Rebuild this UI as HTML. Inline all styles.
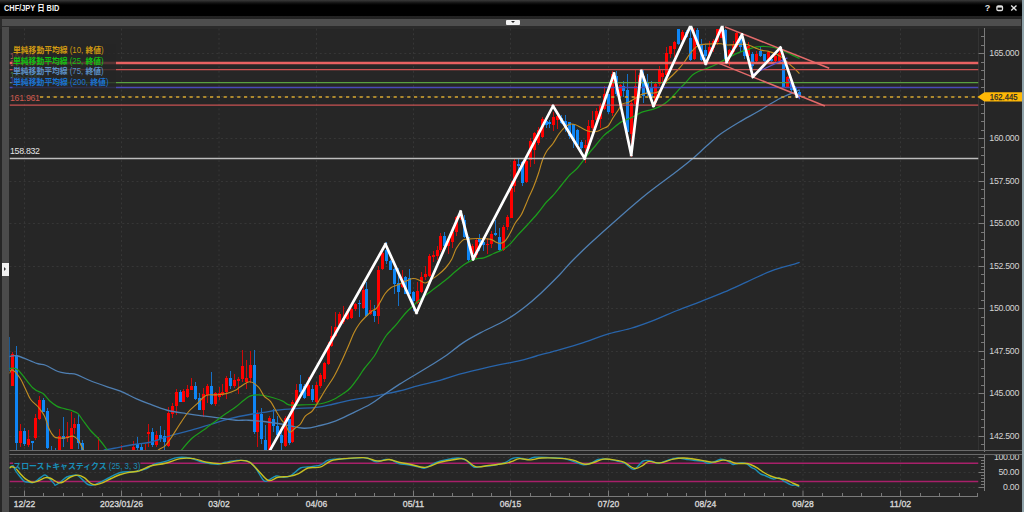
<!DOCTYPE html>
<html><head><meta charset="utf-8">
<style>
html,body{margin:0;padding:0;}
body{width:1024px;height:512px;overflow:hidden;background:#262626;position:relative;font-family:"Liberation Sans","Noto Sans CJK JP",sans-serif;}
#title{position:absolute;left:0;top:0;width:1022px;height:16px;background:linear-gradient(#3a3a3a 0px,#111 3px,#000 5px,#000 16px);}
#title .t{position:absolute;left:4px;top:2.5px;font-size:9px;font-weight:bold;color:#f0f0f0;line-height:11px;white-space:nowrap;}
#band{position:absolute;left:0;top:16px;width:1022px;height:12.5px;background:linear-gradient(#222 0px,#232323 3px,#2b2b2b 3px,#2b2b2b 12.5px);}
#gbar{position:absolute;left:1.5px;top:19px;width:1019.5px;height:7px;background:#4e4e4e;}
#tab{position:absolute;left:506px;top:19.8px;width:13.5px;height:5.2px;background:#f2f2f2;border-radius:1px;}
#tab:after{content:"";position:absolute;left:4.6px;top:1.6px;border-left:2.2px solid transparent;border-right:2.2px solid transparent;border-top:2.2px solid #222;}
#lstrip{position:absolute;left:1.5px;top:27px;width:7.5px;height:485px;background:#4b4b4b;}
#rstrip{position:absolute;left:1022px;top:0;width:2px;height:512px;background:#8fa3aa;}
#lbtn{position:absolute;left:2px;top:263px;width:7px;height:13px;background:#f2f2f2;}
#lbtn:after{content:"";position:absolute;left:2.2px;top:4px;border-top:2.6px solid transparent;border-bottom:2.6px solid transparent;border-left:2.6px solid #333;}
#icons{position:absolute;top:0;left:0;}
</style></head><body>
<div id="title"></div>
<div id="band"></div>
<div id="gbar"></div>
<div id="tab"></div>
<div id="lstrip"></div>
<div id="lbtn"></div>
<div id="rstrip"></div>
<svg width="1024" height="512" viewBox="0 0 1024 512" style="position:absolute;left:0;top:0">
<defs>
<clipPath id="cm"><rect x="9.5" y="25.8" width="969.0" height="424.2"/></clipPath>
<clipPath id="cs"><rect x="9.5" y="455" width="969.0" height="35.5"/></clipPath>
</defs>
<g stroke="#363636" stroke-width="1" stroke-dasharray="2 2.7"><line x1="9.5" y1="53.5" x2="978.5" y2="53.5"/><line x1="9.5" y1="96.5" x2="978.5" y2="96.5"/><line x1="9.5" y1="138.5" x2="978.5" y2="138.5"/><line x1="9.5" y1="181.5" x2="978.5" y2="181.5"/><line x1="9.5" y1="223.5" x2="978.5" y2="223.5"/><line x1="9.5" y1="266.5" x2="978.5" y2="266.5"/><line x1="9.5" y1="308.5" x2="978.5" y2="308.5"/><line x1="9.5" y1="351.5" x2="978.5" y2="351.5"/><line x1="9.5" y1="393.5" x2="978.5" y2="393.5"/><line x1="9.5" y1="436.5" x2="978.5" y2="436.5"/><line x1="24.5" y1="28.5" x2="24.5" y2="450.0"/><line x1="121.5" y1="28.5" x2="121.5" y2="450.0"/><line x1="219" y1="28.5" x2="219" y2="450.0"/><line x1="316.5" y1="28.5" x2="316.5" y2="450.0"/><line x1="413.5" y1="28.5" x2="413.5" y2="450.0"/><line x1="510.5" y1="28.5" x2="510.5" y2="450.0"/><line x1="608.5" y1="28.5" x2="608.5" y2="450.0"/><line x1="705.5" y1="28.5" x2="705.5" y2="450.0"/><line x1="803" y1="28.5" x2="803" y2="450.0"/><line x1="900.5" y1="28.5" x2="900.5" y2="450.0"/></g>
<g stroke="#363636" stroke-width="1" stroke-dasharray="2 2.7"><line x1="9.5" y1="457.5" x2="978.5" y2="457.5"/><line x1="9.5" y1="472.5" x2="978.5" y2="472.5"/><line x1="9.5" y1="487.5" x2="978.5" y2="487.5"/><line x1="24.5" y1="455" x2="24.5" y2="490"/><line x1="121.5" y1="455" x2="121.5" y2="490"/><line x1="219" y1="455" x2="219" y2="490"/><line x1="316.5" y1="455" x2="316.5" y2="490"/><line x1="413.5" y1="455" x2="413.5" y2="490"/><line x1="510.5" y1="455" x2="510.5" y2="490"/><line x1="608.5" y1="455" x2="608.5" y2="490"/><line x1="705.5" y1="455" x2="705.5" y2="490"/><line x1="803" y1="455" x2="803" y2="490"/><line x1="900.5" y1="455" x2="900.5" y2="490"/></g>
<line x1="978.5" y1="28" x2="978.5" y2="450" stroke="#333" stroke-width="1"/>
<g stroke="#7a7a7a" stroke-width="1"><line x1="981" y1="36.5" x2="984.5" y2="36.5"/><line x1="981" y1="45.5" x2="984.5" y2="45.5"/><line x1="978.5" y1="53.5" x2="984.5" y2="53.5"/><line x1="981" y1="62.5" x2="984.5" y2="62.5"/><line x1="981" y1="70.5" x2="984.5" y2="70.5"/><line x1="981" y1="79.5" x2="984.5" y2="79.5"/><line x1="981" y1="87.5" x2="984.5" y2="87.5"/><line x1="978.5" y1="96.5" x2="984.5" y2="96.5"/><line x1="981" y1="104.5" x2="984.5" y2="104.5"/><line x1="981" y1="113.5" x2="984.5" y2="113.5"/><line x1="981" y1="121.5" x2="984.5" y2="121.5"/><line x1="981" y1="130.5" x2="984.5" y2="130.5"/><line x1="978.5" y1="138.5" x2="984.5" y2="138.5"/><line x1="981" y1="147.5" x2="984.5" y2="147.5"/><line x1="981" y1="155.5" x2="984.5" y2="155.5"/><line x1="981" y1="164.5" x2="984.5" y2="164.5"/><line x1="981" y1="172.5" x2="984.5" y2="172.5"/><line x1="978.5" y1="181.5" x2="984.5" y2="181.5"/><line x1="981" y1="189.5" x2="984.5" y2="189.5"/><line x1="981" y1="198.5" x2="984.5" y2="198.5"/><line x1="981" y1="206.5" x2="984.5" y2="206.5"/><line x1="981" y1="215.5" x2="984.5" y2="215.5"/><line x1="978.5" y1="223.5" x2="984.5" y2="223.5"/><line x1="981" y1="232.5" x2="984.5" y2="232.5"/><line x1="981" y1="240.5" x2="984.5" y2="240.5"/><line x1="981" y1="249.5" x2="984.5" y2="249.5"/><line x1="981" y1="257.5" x2="984.5" y2="257.5"/><line x1="978.5" y1="266.5" x2="984.5" y2="266.5"/><line x1="981" y1="274.5" x2="984.5" y2="274.5"/><line x1="981" y1="283.5" x2="984.5" y2="283.5"/><line x1="981" y1="291.5" x2="984.5" y2="291.5"/><line x1="981" y1="300.5" x2="984.5" y2="300.5"/><line x1="978.5" y1="308.5" x2="984.5" y2="308.5"/><line x1="981" y1="317.5" x2="984.5" y2="317.5"/><line x1="981" y1="325.5" x2="984.5" y2="325.5"/><line x1="981" y1="334.5" x2="984.5" y2="334.5"/><line x1="981" y1="342.5" x2="984.5" y2="342.5"/><line x1="978.5" y1="351.5" x2="984.5" y2="351.5"/><line x1="981" y1="359.5" x2="984.5" y2="359.5"/><line x1="981" y1="368.5" x2="984.5" y2="368.5"/><line x1="981" y1="376.5" x2="984.5" y2="376.5"/><line x1="981" y1="385.5" x2="984.5" y2="385.5"/><line x1="978.5" y1="393.5" x2="984.5" y2="393.5"/><line x1="981" y1="402.5" x2="984.5" y2="402.5"/><line x1="981" y1="410.5" x2="984.5" y2="410.5"/><line x1="981" y1="419.5" x2="984.5" y2="419.5"/><line x1="981" y1="427.5" x2="984.5" y2="427.5"/><line x1="978.5" y1="436.5" x2="984.5" y2="436.5"/><line x1="981" y1="444.5" x2="984.5" y2="444.5"/><line x1="984.5" y1="28" x2="984.5" y2="452"/><line x1="978.5" y1="457.5" x2="984.5" y2="457.5"/><line x1="981" y1="460.5" x2="984.5" y2="460.5"/><line x1="981" y1="463.5" x2="984.5" y2="463.5"/><line x1="981" y1="466.5" x2="984.5" y2="466.5"/><line x1="981" y1="469.5" x2="984.5" y2="469.5"/><line x1="978.5" y1="472.5" x2="984.5" y2="472.5"/><line x1="981" y1="475.5" x2="984.5" y2="475.5"/><line x1="981" y1="478.5" x2="984.5" y2="478.5"/><line x1="981" y1="481.5" x2="984.5" y2="481.5"/><line x1="981" y1="484.5" x2="984.5" y2="484.5"/><line x1="978.5" y1="487.5" x2="984.5" y2="487.5"/><line x1="984.5" y1="455" x2="984.5" y2="491"/><line x1="9.5" y1="496.5" x2="978" y2="496.5"/><line x1="977.5" y1="493" x2="977.5" y2="496.5"/><line x1="24.5" y1="490.5" x2="24.5" y2="496.5"/><line x1="43.5" y1="493" x2="43.5" y2="496.5"/><line x1="63.5" y1="493" x2="63.5" y2="496.5"/><line x1="82.5" y1="493" x2="82.5" y2="496.5"/><line x1="102.5" y1="493" x2="102.5" y2="496.5"/><line x1="121.5" y1="490.5" x2="121.5" y2="496.5"/><line x1="141.5" y1="493" x2="141.5" y2="496.5"/><line x1="160.5" y1="493" x2="160.5" y2="496.5"/><line x1="180.5" y1="493" x2="180.5" y2="496.5"/><line x1="199.5" y1="493" x2="199.5" y2="496.5"/><line x1="219" y1="490.5" x2="219" y2="496.5"/><line x1="238.5" y1="493" x2="238.5" y2="496.5"/><line x1="258.5" y1="493" x2="258.5" y2="496.5"/><line x1="277.5" y1="493" x2="277.5" y2="496.5"/><line x1="297.5" y1="493" x2="297.5" y2="496.5"/><line x1="316.5" y1="490.5" x2="316.5" y2="496.5"/><line x1="336.5" y1="493" x2="336.5" y2="496.5"/><line x1="355.5" y1="493" x2="355.5" y2="496.5"/><line x1="374.5" y1="493" x2="374.5" y2="496.5"/><line x1="394.5" y1="493" x2="394.5" y2="496.5"/><line x1="413.5" y1="490.5" x2="413.5" y2="496.5"/><line x1="433.5" y1="493" x2="433.5" y2="496.5"/><line x1="452.5" y1="493" x2="452.5" y2="496.5"/><line x1="472.5" y1="493" x2="472.5" y2="496.5"/><line x1="491.5" y1="493" x2="491.5" y2="496.5"/><line x1="510.5" y1="490.5" x2="510.5" y2="496.5"/><line x1="530.5" y1="493" x2="530.5" y2="496.5"/><line x1="550.5" y1="493" x2="550.5" y2="496.5"/><line x1="569.5" y1="493" x2="569.5" y2="496.5"/><line x1="589.5" y1="493" x2="589.5" y2="496.5"/><line x1="608.5" y1="490.5" x2="608.5" y2="496.5"/><line x1="628.5" y1="493" x2="628.5" y2="496.5"/><line x1="647.5" y1="493" x2="647.5" y2="496.5"/><line x1="667.5" y1="493" x2="667.5" y2="496.5"/><line x1="686.5" y1="493" x2="686.5" y2="496.5"/><line x1="705.5" y1="490.5" x2="705.5" y2="496.5"/><line x1="725.5" y1="493" x2="725.5" y2="496.5"/><line x1="744.5" y1="493" x2="744.5" y2="496.5"/><line x1="764.5" y1="493" x2="764.5" y2="496.5"/><line x1="783.5" y1="493" x2="783.5" y2="496.5"/><line x1="803" y1="490.5" x2="803" y2="496.5"/><line x1="822.5" y1="493" x2="822.5" y2="496.5"/><line x1="842.5" y1="493" x2="842.5" y2="496.5"/><line x1="861.5" y1="493" x2="861.5" y2="496.5"/><line x1="881.5" y1="493" x2="881.5" y2="496.5"/><line x1="900.5" y1="490.5" x2="900.5" y2="496.5"/><line x1="920.5" y1="493" x2="920.5" y2="496.5"/><line x1="939.5" y1="493" x2="939.5" y2="496.5"/><line x1="959.5" y1="493" x2="959.5" y2="496.5"/></g>
<line x1="9.5" y1="450.5" x2="1022" y2="450.5" stroke="#6a6a6a" stroke-width="1.2"/>

<g clip-path="url(#cm)">
<path d="M12.5 352V386M20.5 424V447M28.5 430V447M35.5 414V440M39.5 396V420M59.5 429V452M67.5 422V442M71.5 412V449M74.5 418V434M98.5 437V454M121.5 445V454M133.5 441V452M145.5 444V454M148.5 424V447M156.5 431V447M168.5 407V447M172.5 403V418M176.5 389V415M183.5 389V402M187.5 385V398M191.5 378V390M203.5 388V417M207.5 384V403M215.5 392V406M219.5 387V400M222.5 384V396M226.5 376V399M234.5 374V388M238.5 377V394M242.5 350V382M246.5 360V389M250.5 351V383M257.5 410V447M269.5 416V452M285.5 416V447M292.5 400V443M296.5 384V402M308.5 377V396M316.5 382V403M320.5 373V388M324.5 362V382M328.5 342V365M331.5 326V347M335.5 312V337M339.5 312V326M343.5 306V324M347.5 309V320M351.5 308V319M355.5 303V311M363.5 284V309M370.5 300V315M378.5 266V324M382.5 248V270M402.5 270V288M417.5 282V304M421.5 272V293M425.5 266V280M429.5 254V277M433.5 251V262M437.5 246V260M440.5 233V252M448.5 237V254M452.5 230V248M456.5 216V236M460.5 211V220M472.5 244V256M476.5 238V258M487.5 238V254M491.5 231V248M503.5 225V251M507.5 215V230M511.5 181V218M514.5 159V192M526.5 160V183M530.5 138V167M534.5 132V164M538.5 127V145M542.5 117V138M553.5 112V131M557.5 115V129M585.5 140V163M588.5 120V151M592.5 111V130M596.5 108V126M600.5 103V128M604.5 86V110M612.5 71V116M620.5 84V96M631.5 100V157M635.5 70V106M639.5 73V95M655.5 82V106M659.5 66V86M662.5 69V82M666.5 47V84M670.5 46V58M674.5 41V57M682.5 30V41M694.5 28V60M709.5 41V58M713.5 39V52M717.5 29V45M721.5 26V38M729.5 49V66M733.5 41V54M736.5 32V48M748.5 42V63M756.5 51V64M768.5 51V62M775.5 54V62M779.5 50V61M787.5 76V88" stroke="#d00808" stroke-width="1" fill="none"/>
<path d="M8.5 337V371M16.5 346V450M24.5 428V446M32.5 441V450M43.5 398V412M47.5 408V449M51.5 446V454M55.5 448V454M63.5 417V447M78.5 414V449M82.5 440V452M137.5 437V452M141.5 444V452M152.5 428V447M160.5 426V442M164.5 430V450M180.5 390V402M195.5 382V400M199.5 393V410M211.5 372V405M230.5 371V389M254.5 350V434M261.5 408V444M265.5 425V452M273.5 409V432M277.5 416V436M281.5 428V452M289.5 419V445M300.5 375V393M304.5 384V399M312.5 385V402M359.5 300V317M366.5 282V317M374.5 305V322M386.5 242V264M390.5 260V270M394.5 268V294M398.5 268V306M405.5 276V294M409.5 269V294M413.5 291V311M444.5 232V248M464.5 215V238M468.5 237V262M479.5 234V251M483.5 238V251M495.5 220V236M499.5 228V251M518.5 159V170M522.5 161V186M546.5 118V128M549.5 120V128M561.5 115V124M565.5 115V132M569.5 122V139M573.5 124V148M577.5 129V146M581.5 140V155M608.5 94V114M616.5 71V96M623.5 81V97M627.5 74V137M643.5 70V103M647.5 74V96M651.5 81V99M678.5 29V45M686.5 30V38M690.5 26V61M697.5 28V46M701.5 39V61M705.5 45V61M725.5 29V61M740.5 35V52M744.5 42V59M752.5 52V70M760.5 47V57M764.5 54V62M771.5 55V62M783.5 55V88M791.5 80V92M795.5 86V95M799.5 90V99" stroke="#1670c6" stroke-width="1" fill="none"/>
<g fill="#ff0000"><rect x="11" y="354" width="3" height="32"/><rect x="19" y="431" width="3" height="12"/><rect x="27" y="439" width="3" height="6"/><rect x="34" y="418" width="3" height="20"/><rect x="38" y="400" width="3" height="19"/><rect x="58" y="436" width="3" height="16"/><rect x="66" y="436" width="3" height="2"/><rect x="70" y="428" width="3" height="21"/><rect x="73" y="424" width="3" height="4"/><rect x="97" y="451" width="3" height="3"/><rect x="120" y="451" width="3" height="3"/><rect x="132" y="447" width="3" height="5"/><rect x="144" y="451" width="3" height="3"/><rect x="147" y="432" width="3" height="2"/><rect x="155" y="435" width="3" height="10"/><rect x="167" y="413" width="3" height="33"/><rect x="171" y="406" width="3" height="8"/><rect x="175" y="392" width="3" height="14"/><rect x="182" y="391" width="3" height="11"/><rect x="186" y="389" width="3" height="8"/><rect x="190" y="386" width="3" height="4"/><rect x="202" y="394" width="3" height="16"/><rect x="206" y="386" width="3" height="9"/><rect x="214" y="393" width="3" height="11"/><rect x="218" y="393" width="3" height="4"/><rect x="221" y="392" width="3" height="3"/><rect x="225" y="378" width="3" height="14"/><rect x="233" y="380" width="3" height="6"/><rect x="237" y="379" width="3" height="2"/><rect x="241" y="366" width="3" height="13"/><rect x="245" y="378" width="3" height="4"/><rect x="249" y="365" width="3" height="13"/><rect x="256" y="414" width="3" height="18"/><rect x="268" y="418" width="3" height="34"/><rect x="284" y="418" width="3" height="28"/><rect x="291" y="402" width="3" height="40"/><rect x="295" y="390" width="3" height="12"/><rect x="307" y="385" width="3" height="11"/><rect x="315" y="385" width="3" height="17"/><rect x="319" y="375" width="3" height="11"/><rect x="323" y="363" width="3" height="16"/><rect x="327" y="345" width="3" height="19"/><rect x="330" y="336" width="3" height="10"/><rect x="334" y="327" width="3" height="9"/><rect x="338" y="314" width="3" height="12"/><rect x="342" y="318" width="3" height="4"/><rect x="346" y="311" width="3" height="8"/><rect x="350" y="309" width="3" height="9"/><rect x="354" y="304" width="3" height="5"/><rect x="362" y="290" width="3" height="18"/><rect x="369" y="310" width="3" height="4"/><rect x="377" y="270" width="3" height="46"/><rect x="381" y="253" width="3" height="16"/><rect x="401" y="280" width="3" height="7"/><rect x="416" y="291" width="3" height="12"/><rect x="420" y="277" width="3" height="15"/><rect x="424" y="274" width="3" height="3"/><rect x="428" y="256" width="3" height="20"/><rect x="432" y="255" width="3" height="2"/><rect x="436" y="250" width="3" height="6"/><rect x="439" y="236" width="3" height="14"/><rect x="447" y="240" width="3" height="6"/><rect x="451" y="232" width="3" height="10"/><rect x="455" y="217" width="3" height="15"/><rect x="459" y="212" width="3" height="6"/><rect x="471" y="246" width="3" height="8"/><rect x="475" y="240" width="3" height="15"/><rect x="486" y="244" width="3" height="1"/><rect x="490" y="234" width="3" height="10"/><rect x="502" y="227" width="3" height="23"/><rect x="506" y="217" width="3" height="10"/><rect x="510" y="188" width="3" height="30"/><rect x="513" y="161" width="3" height="25"/><rect x="525" y="161" width="3" height="21"/><rect x="529" y="141" width="3" height="19"/><rect x="533" y="133" width="3" height="17"/><rect x="537" y="130" width="3" height="13"/><rect x="541" y="119" width="3" height="18"/><rect x="552" y="117" width="3" height="8"/><rect x="556" y="116" width="3" height="4"/><rect x="584" y="145" width="3" height="3"/><rect x="587" y="126" width="3" height="23"/><rect x="591" y="120" width="3" height="8"/><rect x="595" y="111" width="3" height="9"/><rect x="599" y="106" width="3" height="13"/><rect x="603" y="94" width="3" height="15"/><rect x="611" y="74" width="3" height="39"/><rect x="619" y="85" width="3" height="11"/><rect x="630" y="103" width="3" height="31"/><rect x="634" y="86" width="3" height="18"/><rect x="638" y="75" width="3" height="11"/><rect x="654" y="84" width="3" height="19"/><rect x="658" y="70" width="3" height="14"/><rect x="661" y="73" width="3" height="4"/><rect x="665" y="53" width="3" height="22"/><rect x="669" y="46" width="3" height="8"/><rect x="673" y="42" width="3" height="7"/><rect x="681" y="32" width="3" height="8"/><rect x="693" y="35" width="3" height="24"/><rect x="708" y="47" width="3" height="8"/><rect x="712" y="41" width="3" height="7"/><rect x="716" y="29" width="3" height="13"/><rect x="720" y="29" width="3" height="9"/><rect x="728" y="50" width="3" height="6"/><rect x="732" y="45" width="3" height="7"/><rect x="735" y="33" width="3" height="14"/><rect x="747" y="46" width="3" height="10"/><rect x="755" y="54" width="3" height="7"/><rect x="767" y="52" width="3" height="8"/><rect x="774" y="56" width="3" height="5"/><rect x="778" y="53" width="3" height="8"/><rect x="786" y="77" width="3" height="10"/></g>
<g fill="#0f86f5"><rect x="7" y="337" width="3" height="34"/><rect x="15" y="355" width="3" height="88"/><rect x="23" y="431" width="3" height="13"/><rect x="31" y="441" width="3" height="2"/><rect x="42" y="400" width="3" height="12"/><rect x="46" y="411" width="3" height="37"/><rect x="50" y="451" width="3" height="3"/><rect x="54" y="451" width="3" height="3"/><rect x="62" y="436" width="3" height="3"/><rect x="77" y="424" width="3" height="19"/><rect x="81" y="443" width="3" height="9"/><rect x="136" y="444" width="3" height="4"/><rect x="140" y="447" width="3" height="5"/><rect x="151" y="432" width="3" height="13"/><rect x="159" y="435" width="3" height="4"/><rect x="163" y="436" width="3" height="6"/><rect x="179" y="392" width="3" height="10"/><rect x="194" y="386" width="3" height="13"/><rect x="198" y="398" width="3" height="12"/><rect x="210" y="386" width="3" height="18"/><rect x="229" y="378" width="3" height="8"/><rect x="253" y="365" width="3" height="67"/><rect x="260" y="414" width="3" height="25"/><rect x="264" y="440" width="3" height="12"/><rect x="272" y="419" width="3" height="7"/><rect x="276" y="426" width="3" height="9"/><rect x="280" y="435" width="3" height="8"/><rect x="288" y="419" width="3" height="24"/><rect x="299" y="384" width="3" height="8"/><rect x="303" y="386" width="3" height="12"/><rect x="311" y="389" width="3" height="11"/><rect x="358" y="303" width="3" height="1"/><rect x="365" y="289" width="3" height="27"/><rect x="373" y="311" width="3" height="5"/><rect x="385" y="250" width="3" height="11"/><rect x="389" y="261" width="3" height="9"/><rect x="393" y="269" width="3" height="15"/><rect x="397" y="283" width="3" height="9"/><rect x="404" y="277" width="3" height="17"/><rect x="408" y="278" width="3" height="16"/><rect x="412" y="292" width="3" height="9"/><rect x="443" y="236" width="3" height="10"/><rect x="463" y="220" width="3" height="17"/><rect x="467" y="237" width="3" height="23"/><rect x="478" y="239" width="3" height="3"/><rect x="482" y="242" width="3" height="3"/><rect x="494" y="233" width="3" height="2"/><rect x="498" y="237" width="3" height="13"/><rect x="517" y="164" width="3" height="2"/><rect x="521" y="162" width="3" height="21"/><rect x="545" y="121" width="3" height="4"/><rect x="548" y="122" width="3" height="2"/><rect x="560" y="118" width="3" height="5"/><rect x="564" y="121" width="3" height="7"/><rect x="568" y="122" width="3" height="14"/><rect x="572" y="124" width="3" height="17"/><rect x="576" y="130" width="3" height="15"/><rect x="580" y="142" width="3" height="6"/><rect x="607" y="94" width="3" height="18"/><rect x="615" y="76" width="3" height="18"/><rect x="622" y="86" width="3" height="5"/><rect x="626" y="90" width="3" height="42"/><rect x="642" y="76" width="3" height="20"/><rect x="646" y="83" width="3" height="11"/><rect x="650" y="88" width="3" height="10"/><rect x="677" y="29" width="3" height="15"/><rect x="685" y="32" width="3" height="5"/><rect x="689" y="38" width="3" height="22"/><rect x="696" y="30" width="3" height="15"/><rect x="700" y="44" width="3" height="16"/><rect x="704" y="50" width="3" height="6"/><rect x="724" y="30" width="3" height="30"/><rect x="739" y="36" width="3" height="11"/><rect x="743" y="44" width="3" height="12"/><rect x="751" y="54" width="3" height="12"/><rect x="759" y="51" width="3" height="5"/><rect x="763" y="54" width="3" height="7"/><rect x="770" y="59" width="3" height="2"/><rect x="782" y="56" width="3" height="31"/><rect x="790" y="82" width="3" height="8"/><rect x="794" y="88" width="3" height="6"/><rect x="798" y="92" width="3" height="5"/></g>
</g>
<g clip-path="url(#cm)" fill="none" stroke-linejoin="round" stroke-linecap="round">
<path d="M104.25 450C105.92 449.71 110.5 448.96 114.25 448.25C118 447.54 123.12 446.42 126.75 445.75C130.38 445.08 131.75 444.92 136 444.25C140.25 443.58 146.42 443.21 152.25 441.75C158.08 440.29 164.33 437.48 171 435.5C177.67 433.52 185.58 431.77 192.25 429.9C198.92 428.02 204.75 426.13 211 424.25C217.25 422.37 223.08 420.27 229.75 418.6C236.42 416.93 245.29 415.28 251 414.25C256.71 413.22 259.75 413.07 264 412.4C268.25 411.73 271.29 410.88 276.5 410.25C281.71 409.62 288.58 409.08 295.25 408.6C301.92 408.12 310.25 408.12 316.5 407.4C322.75 406.67 326.92 405.5 332.75 404.25C338.58 403 345.25 401.11 351.5 399.9C357.75 398.69 364.93 397.92 370.25 397C375.57 396.08 378.59 395.4 383.4 394.4C388.21 393.4 393.23 392.47 399.1 391C404.97 389.53 411.78 387.38 418.6 385.6C425.42 383.82 433.18 382.2 440 380.3C446.82 378.4 452.98 376.03 459.5 374.2C466.02 372.37 472.58 370.85 479.1 369.3C485.62 367.75 491.78 366.33 498.6 364.9C505.42 363.47 513.72 362.18 520 360.7C526.28 359.22 529.63 357.85 536.3 356C542.97 354.15 552.15 351.83 560 349.6C567.85 347.37 575.58 345.13 583.4 342.6C591.22 340.07 599.08 336.75 606.9 334.4C614.72 332.05 622.5 330.85 630.3 328.5C638.1 326.15 645.88 323.3 653.7 320.3C661.52 317.3 669.38 313.62 677.2 310.5C685.02 307.38 692.8 304.65 700.6 301.6C708.4 298.55 716.18 295.53 724 292.2C731.82 288.87 739.68 285.12 747.5 281.6C755.32 278.08 763.08 274.02 770.9 271.1C778.72 268.18 789.68 265.53 794.4 264.1C799.12 262.67 798.4 262.77 799.2 262.5" stroke="#2864aa" stroke-width="1.3"/>
<path d="M9.5 356.5C10.92 356.42 13.46 354.85 18 356C22.54 357.15 32.17 361.86 36.75 363.4C41.33 364.94 41.96 363.9 45.5 365.25C49.04 366.6 54.25 370.14 58 371.5C61.75 372.86 64.88 372.88 68 373.4C71.12 373.92 73.21 373.46 76.75 374.6C80.29 375.74 84.04 378.17 89.25 380.25C94.46 382.33 102.79 385.29 108 387.1C113.21 388.91 115.83 389.18 120.5 391.1C125.17 393.02 131.33 396.52 136 398.6C140.67 400.68 143.29 401.66 148.5 403.6C153.71 405.54 161 408.58 167.25 410.25C173.5 411.92 179.75 412.62 186 413.6C192.25 414.58 198.5 415.27 204.75 416.1C211 416.93 218.29 417.91 223.5 418.6C228.71 419.29 231.83 419.98 236 420.25C240.17 420.52 243.83 420.04 248.5 420.25C253.17 420.46 258.29 420.83 264 421.5C269.71 422.17 276.08 423.12 282.75 424.25C289.42 425.38 297.75 428.04 304 428.25C310.25 428.46 315.04 426.69 320.25 425.5C325.46 424.31 330.04 423.08 335.25 421.1C340.46 419.12 345.67 416.41 351.5 413.6C357.33 410.79 364.83 407.4 370.25 404.25C375.67 401.1 379.11 398.06 384 394.7C388.89 391.34 394.39 387.43 399.6 384.1C404.81 380.77 410.03 377.83 415.25 374.7C420.47 371.57 425.62 368.58 430.9 365.3C436.17 362.02 441.5 358.78 446.9 355C452.3 351.22 457.45 346.43 463.3 342.6C469.15 338.77 474.97 335.72 482 332C489.03 328.28 498.47 324.4 505.5 320.3C512.53 316.2 518.35 311.88 524.2 307.4C530.05 302.92 534.67 298.88 540.6 293.4C546.53 287.92 554.72 279.73 559.8 274.5C564.88 269.27 566.18 267.03 571.1 262C576.02 256.97 581.38 251.65 589.3 244.3C597.22 236.95 608.83 226.45 618.6 217.9C628.37 209.35 638.13 200.82 647.9 193C657.67 185.18 669.87 176.62 677.2 171C684.53 165.38 687.02 163.45 691.9 159.3C696.78 155.15 701.9 150.2 706.5 146.1C711.1 142 714.08 138.68 719.5 134.7C724.92 130.72 732.5 126.11 739 122.2C745.5 118.29 752 115.03 758.5 111.25C765 107.47 771.8 102.76 778 99.5C784.2 96.24 792.17 93.28 795.7 91.7C799.23 90.12 798.62 90.28 799.2 90" stroke="#4f7fb2" stroke-width="1.3"/>
<path d="M9.5 368.5C10.92 368.75 14.08 366.75 18 370C21.92 373.25 28.83 384.07 33 388C37.17 391.93 40.29 391.52 43 393.6C45.71 395.68 46.96 398.42 49.25 400.5C51.54 402.58 54.67 404.85 56.75 406.1C58.83 407.35 59.88 407.43 61.75 408C63.62 408.57 66.12 408.98 68 409.5C69.88 410.02 71.33 410.42 73 411.1C74.67 411.78 76.33 412.03 78 413.6C79.67 415.17 80.92 417.68 83 420.5C85.08 423.32 88 427.58 90.5 430.5C93 433.42 95.29 434.88 98 438C100.71 441.12 104.42 445.92 106.75 449.25C109.08 452.58 100.62 456.54 112 458C123.38 459.46 163.4 459.35 175 458C186.6 456.65 178.72 453.23 181.6 449.9C184.47 446.57 188.39 441.44 192.25 438C196.11 434.56 200.58 432.27 204.75 429.25C208.92 426.23 213.71 422.51 217.25 419.9C220.79 417.29 222.88 415.79 226 413.6C229.12 411.41 233.08 408.93 236 406.75C238.92 404.57 241.21 402.27 243.5 400.5C245.79 398.73 247.46 397.03 249.75 396.1C252.04 395.17 254.88 395 257.25 394.9C259.62 394.8 261.21 394.98 264 395.5C266.79 396.02 270.88 397.07 274 398C277.12 398.93 280.25 399.95 282.75 401.1C285.25 402.25 285.88 404.27 289 404.9C292.12 405.53 296.92 405.01 301.5 404.9C306.08 404.79 312.75 404.57 316.5 404.25C320.25 403.93 321.08 403.83 324 403C326.92 402.17 330.67 400.92 334 399.25C337.33 397.58 341.29 394.88 344 393C346.71 391.12 347.75 390.75 350.25 388C352.75 385.25 356.71 379.67 359 376.5C361.29 373.33 361.5 372.33 364 369C366.5 365.67 371.29 360.46 374 356.5C376.71 352.54 378.17 348.79 380.25 345.25C382.33 341.71 384.57 337.89 386.5 335.25C388.43 332.61 389.97 331.42 391.8 329.4C393.63 327.38 395.3 325.71 397.5 323.1C399.7 320.49 402.5 316.56 405 313.75C407.5 310.94 409.58 308.96 412.5 306.25C415.42 303.54 419.58 299.89 422.5 297.5C425.42 295.11 427.5 293.77 430 291.9C432.5 290.02 435 288.13 437.5 286.25C440 284.37 441.92 283.12 445 280.6C448.08 278.08 452.67 273.87 456 271.1C459.33 268.33 461.83 266 465 264C468.17 262 471.88 260.12 475 259.1C478.12 258.08 480.62 258.83 483.75 257.9C486.88 256.97 490.62 254.86 493.75 253.5C496.88 252.14 499.79 251.32 502.5 249.75C505.21 248.18 507.5 246.49 510 244.1C512.5 241.71 514.58 238.62 517.5 235.4C520.42 232.18 524.17 228.4 527.5 224.75C530.83 221.1 534.38 217.25 537.5 213.5C540.62 209.75 543.75 205.17 546.25 202.25C548.75 199.33 550.04 198.75 552.5 196C554.96 193.25 558.12 189.25 561 185.75C563.88 182.25 567.04 177.92 569.75 175C572.46 172.08 574.29 171.58 577.25 168.25C580.21 164.92 584.54 158.67 587.5 155C590.46 151.33 592.29 149.48 595 146.25C597.71 143.02 600.83 138.52 603.75 135.6C606.67 132.68 609.58 131.03 612.5 128.75C615.42 126.47 618.29 123.68 621.25 121.9C624.21 120.12 627.71 119.25 630.25 118.1C632.79 116.95 634.42 116.03 636.5 115C638.58 113.97 640.04 112.83 642.75 111.9C645.46 110.97 649.62 110.45 652.75 109.4C655.88 108.35 659 106.96 661.5 105.6C664 104.24 665.67 103.02 667.75 101.25C669.83 99.48 671.92 97.19 674 95C676.08 92.81 678.38 90.08 680.25 88.1C682.12 86.12 683.21 85.28 685.25 83.1C687.29 80.92 690.25 76.97 692.5 75C694.75 73.03 696.25 72.4 698.75 71.25C701.25 70.1 704.38 69.35 707.5 68.1C710.62 66.85 714.17 65.42 717.5 63.75C720.83 62.08 724.17 59.88 727.5 58.1C730.83 56.33 734.38 54.45 737.5 53.1C740.62 51.75 743.12 51.03 746.25 50C749.38 48.97 753.12 47.48 756.25 46.9C759.38 46.32 762.54 46.48 765 46.5C767.46 46.52 768.75 46.6 771 47C773.25 47.4 776 48.07 778.5 48.9C781 49.73 783.71 50.97 786 52C788.29 53.03 790.07 54.06 792.25 55.1C794.43 56.14 797.96 57.73 799.1 58.25" stroke="#1c9c1c" stroke-width="1.25"/>
<path d="M9.5 373C10 372.5 10.75 369.17 12.5 370C14.25 370.83 17.92 375 20 378C22.08 381 23.25 384.46 25 388C26.75 391.54 28.33 396.12 30.5 399.25C32.67 402.38 35.71 404.04 38 406.75C40.29 409.46 42.38 411.75 44.25 415.5C46.12 419.25 47.58 425.71 49.25 429.25C50.92 432.79 52.58 435.29 54.25 436.75C55.92 438.21 57.17 437.83 59.25 438C61.33 438.17 64.67 438.07 66.75 437.75C68.83 437.43 70.29 436.16 71.75 436.1C73.21 436.04 74.25 436.46 75.5 437.4C76.75 438.34 78 439.77 79.25 441.75C80.5 443.73 81.54 446.54 83 449.25C84.46 451.96 76.5 456.54 88 458C99.5 459.46 140.25 459.35 152 458C163.75 456.65 156.38 451.88 158.5 449.9C160.62 447.92 162.67 448.08 164.75 446.1C166.83 444.12 168.5 441.64 171 438C173.5 434.36 176.83 428.62 179.75 424.25C182.67 419.88 185.58 415.19 188.5 411.75C191.42 408.31 194.33 406.31 197.25 403.6C200.17 400.89 202.88 396.95 206 395.5C209.12 394.05 212.67 395.22 216 394.9C219.33 394.58 222.67 394.43 226 393.6C229.33 392.77 233.71 390.98 236 389.9C238.29 388.82 237.46 388.46 239.75 387.1C242.04 385.74 246.62 381.75 249.75 381.75C252.88 381.75 256.12 384.71 258.5 387.1C260.88 389.49 262.04 393.77 264 396.1C265.96 398.43 268.17 398.49 270.25 401.1C272.33 403.71 274.62 408.62 276.5 411.75C278.38 414.88 279.93 417.61 281.5 419.9C283.07 422.19 284.55 423.42 285.9 425.5C287.25 427.58 288.04 431.98 289.6 432.4C291.16 432.82 293.48 429.36 295.25 428C297.02 426.64 298.58 426.23 300.25 424.25C301.92 422.27 303.38 418.18 305.25 416.1C307.12 414.02 309.83 413.31 311.5 411.75C313.17 410.19 314 408.62 315.25 406.75C316.5 404.88 317.75 402.58 319 400.5C320.25 398.42 321.5 396.33 322.75 394.25C324 392.17 324.62 390.96 326.5 388C328.38 385.04 331.5 380.92 334 376.5C336.5 372.08 339 366.82 341.5 361.5C344 356.18 346.92 349.39 349 344.6C351.08 339.81 352.23 336.27 354 332.75C355.77 329.23 357.56 326.25 359.6 323.5C361.64 320.75 364.1 318.4 366.25 316.25C368.4 314.1 370.83 311.89 372.5 310.6C374.17 309.31 375 309.85 376.25 308.5C377.5 307.15 378.54 304.96 380 302.5C381.46 300.04 383.12 296.25 385 293.75C386.88 291.25 389.17 288.96 391.25 287.5C393.33 286.04 395.54 285.83 397.5 285C399.46 284.17 400.42 283.58 403 282.5C405.58 281.42 410.17 278.83 413 278.5C415.83 278.17 417.92 279.75 420 280.5C422.08 281.25 423.54 283.21 425.5 283C427.46 282.79 429.67 280.6 431.75 279.25C433.83 277.9 435.71 276.77 438 274.9C440.29 273.02 443.21 270.61 445.5 268C447.79 265.39 449.96 262.5 451.75 259.25C453.54 256 454.46 251.64 456.25 248.5C458.04 245.36 460.62 241.97 462.5 240.4C464.38 238.83 465 239.42 467.5 239.1C470 238.78 473.75 238.5 477.5 238.5C481.25 238.5 486.88 238.47 490 239.1C493.12 239.72 494.58 241.52 496.25 242.25C497.92 242.98 498.54 243.71 500 243.5C501.46 243.29 503.33 242.67 505 241C506.67 239.33 508.33 236.42 510 233.5C511.67 230.58 513.12 226.62 515 223.5C516.88 220.38 519.38 218.08 521.25 214.75C523.12 211.42 524.89 206.62 526.25 203.5C527.61 200.38 528.19 198.75 529.4 196C530.61 193.25 531.98 190.79 533.5 187C535.02 183.21 537.04 177.62 538.5 173.25C539.96 168.88 540.92 164.38 542.25 160.75C543.58 157.12 544.71 154.38 546.5 151.5C548.29 148.62 550.88 146.5 553 143.5C555.12 140.5 557.17 136.32 559.25 133.5C561.33 130.68 563.62 128.17 565.5 126.6C567.38 125.03 568.83 124.41 570.5 124.1C572.17 123.79 573.83 124.22 575.5 124.75C577.17 125.28 578.67 126.29 580.5 127.25C582.33 128.21 584.5 129.72 586.5 130.5C588.5 131.28 590.67 131.78 592.5 131.9C594.33 132.03 595.83 131.78 597.5 131.25C599.17 130.72 600.73 129.62 602.5 128.75C604.27 127.88 606.43 127.67 608.1 126C609.77 124.33 610.93 121.21 612.5 118.75C614.07 116.29 615.83 113.71 617.5 111.25C619.17 108.79 620.75 105.46 622.5 104C624.25 102.54 626.08 103.33 628 102.5C629.92 101.67 631.96 100.25 634 99C636.04 97.75 638.17 95.98 640.25 95C642.33 94.02 644.42 93.42 646.5 93.1C648.58 92.78 650.67 93.41 652.75 93.1C654.83 92.79 656.92 93.02 659 91.25C661.08 89.48 663.17 85 665.25 82.5C667.33 80 669.42 78.33 671.5 76.25C673.58 74.17 675.67 72.29 677.75 70C679.83 67.71 681.96 65.21 684 62.5C686.04 59.79 687.96 56.35 690 53.75C692.04 51.15 694.17 48.46 696.25 46.9C698.33 45.34 699.38 44.92 702.5 44.4C705.62 43.88 711.88 43.86 715 43.75C718.12 43.64 719.17 43.54 721.25 43.75C723.33 43.96 724.38 44.89 727.5 45C730.62 45.11 736.71 44.48 740 44.4C743.29 44.32 744.79 43.97 747.25 44.5C749.71 45.03 752.46 46.67 754.75 47.6C757.04 48.53 758.71 49.47 761 50.1C763.29 50.73 766 50.77 768.5 51.4C771 52.03 773.71 52.87 776 53.9C778.29 54.93 780.17 56.04 782.25 57.6C784.33 59.16 786.62 61.58 788.5 63.25C790.38 64.92 791.73 65.93 793.5 67.6C795.27 69.27 798.17 72.31 799.1 73.25" stroke="#c08c22" stroke-width="1.15"/>
</g>
<g clip-path="url(#cm)">
<line x1="9.5" y1="63" x2="978.5" y2="63" stroke="#e86262" stroke-width="2.6"/>
<line x1="9.5" y1="69.7" x2="978.5" y2="69.7" stroke="#c85252" stroke-width="1.3"/>
<line x1="9.5" y1="82.6" x2="978.5" y2="82.6" stroke="#5aa040" stroke-width="1.3"/>
<line x1="9.5" y1="87.6" x2="978.5" y2="87.6" stroke="#4a4ab8" stroke-width="1.5"/>
<line x1="9.5" y1="105.2" x2="978.5" y2="105.2" stroke="#c85252" stroke-width="1.3"/>
<line x1="9.5" y1="158.5" x2="978.5" y2="158.5" stroke="#bdbdbd" stroke-width="1.5"/>
<line x1="40" y1="97" x2="978.5" y2="97" stroke="#d8a830" stroke-width="1.4" stroke-dasharray="3.2 3.6"/>
</g>
<g font-family="Liberation Sans, sans-serif" font-size="8.8" letter-spacing="-0.3">
<text x="10" y="59" fill="#e06060">164.441</text>
<text x="10" y="65.5" fill="#c85050">164.047</text>
<text x="10" y="78.4" fill="#5aa040">163.288</text>
<text x="10" y="83.4" fill="#5050c0">162.994</text>
<text x="10" y="101.2" fill="#d05a4e">161.961</text>
<text x="10" y="153.8" fill="#e4e4e4">158.832</text>
</g>
<g clip-path="url(#cm)" fill="none">
<line x1="725" y1="26.9" x2="829.2" y2="68.2" stroke="#e46a6a" stroke-width="1.5"/>
<line x1="718.5" y1="63.1" x2="824.9" y2="106" stroke="#e46a6a" stroke-width="1.5"/>
<line x1="752" y1="74.5" x2="787.4" y2="57.9" stroke="#5a50d0" stroke-width="1.2"/>
<line x1="788" y1="79.1" x2="799.9" y2="99.1" stroke="#5a50d0" stroke-width="1.2"/>
<path d="M269 452L385.5 244.25M385.5 244.25L416.5 312.75M416.5 312.75L460.6 211.6M460.6 211.6L473.1 259.1M473.1 259.1L553 106M553 106L584.6 158.3M584.6 158.3L614 73.6M614 73.6L631.25 155M631.25 155L641.3 71M641.3 71L653.5 106M653.5 106L690.6 25.6M690.6 25.6L705.75 63.75M705.75 63.75L722.25 26M722.25 26L726.6 61.9M726.6 61.9L742 34.75M742 34.75L752.9 76.9M752.9 76.9L780.4 47.6M780.4 47.6L797 96.5" stroke="#ffffff" stroke-width="2.7" stroke-linecap="square"/>
</g>
<rect x="12.5" y="44" width="103.5" height="48" fill="#262626" fill-opacity="0.75"/>
<g font-family="Liberation Sans, Noto Sans CJK JP, sans-serif" font-size="8.2" font-weight="bold">
<text x="13" y="53.2" fill="#d19a12" textLength="90.6" lengthAdjust="spacingAndGlyphs">単純移動平均線<tspan font-weight="normal"> (10, </tspan>終値<tspan font-weight="normal">)</tspan></text>
<text x="13" y="63.7" fill="#12c012" textLength="90.6" lengthAdjust="spacingAndGlyphs">単純移動平均線<tspan font-weight="normal"> (25, </tspan>終値<tspan font-weight="normal">)</tspan></text>
<text x="13" y="74.2" fill="#5c90c8" textLength="90.6" lengthAdjust="spacingAndGlyphs">単純移動平均線<tspan font-weight="normal"> (75, </tspan>終値<tspan font-weight="normal">)</tspan></text>
<text x="13" y="84.7" fill="#1a72d2" textLength="95.5" lengthAdjust="spacingAndGlyphs">単純移動平均線<tspan font-weight="normal"> (200, </tspan>終値<tspan font-weight="normal">)</tspan></text>
</g>
<g clip-path="url(#cs)" fill="none">
<line x1="9.5" y1="463.3" x2="978.5" y2="463.3" stroke="#a8206a" stroke-width="1.5"/>
<line x1="9.5" y1="481.4" x2="978.5" y2="481.4" stroke="#a8206a" stroke-width="1.5"/>
<rect x="13" y="458.5" width="127.5" height="11.5" fill="#262626" fill-opacity="0.85"/>
<path d="M9.25 467.6C9.88 467.29 11.96 465.23 13 465.75C14.04 466.27 14.46 469.08 15.5 470.75C16.54 472.42 17.79 473.98 19.25 475.75C20.71 477.52 22.79 480.36 24.25 481.4C25.71 482.44 26.54 481.8 28 482C29.46 482.2 31.33 483.02 33 482.6C34.67 482.18 36.33 480.64 38 479.5C39.67 478.36 41.75 476.48 43 475.75C44.25 475.02 44.46 474.68 45.5 475.1C46.54 475.52 47.79 476.78 49.25 478.25C50.71 479.72 53.21 482.76 54.25 483.9C55.29 485.04 54.46 485.42 55.5 485.1C56.54 484.78 58.62 483.35 60.5 482C62.38 480.65 64.46 478.15 66.75 477C69.04 475.85 72.38 475.31 74.25 475.1C76.12 474.89 76.54 474.92 78 475.75C79.46 476.58 81.33 478.64 83 480.1C84.67 481.56 86.33 483.67 88 484.5C89.67 485.33 91.12 485.42 93 485.1C94.88 484.78 96.75 483.74 99.25 482.6C101.75 481.46 105.08 479.7 108 478.25C110.92 476.8 114.25 474.94 116.75 473.9C119.25 472.86 120.29 472.36 123 472C125.71 471.64 130.29 471.96 133 471.75C135.71 471.54 136.96 471.29 139.25 470.75C141.54 470.21 144.25 469.59 146.75 468.5C149.25 467.41 151.12 465.38 154.25 464.2C157.38 463.02 161.75 462.5 165.5 461.4C169.25 460.3 172.68 458.17 176.75 457.6C180.82 457.03 185.53 457.22 189.9 458C194.28 458.78 198.32 461.27 203 462.3C207.68 463.33 214.25 464.2 218 464.2C221.75 464.2 222.38 462.93 225.5 462.3C228.62 461.67 233 460.55 236.75 460.4C240.5 460.25 244.88 460.13 248 461.4C251.12 462.67 253 464.94 255.5 468C258 471.06 261.12 477.57 263 479.75C264.88 481.93 264.57 481.73 266.75 481.1C268.93 480.48 273.29 476.63 276.1 476C278.91 475.37 281.1 477.4 283.6 477.3C286.1 477.2 288.28 476.95 291.1 475.4C293.92 473.85 297.68 469.4 300.5 468C303.32 466.6 304.75 467.48 308 467C311.25 466.52 316.75 466.2 320 465.1C323.25 464 325 461.4 327.5 460.4C330 459.4 331.57 459.4 335 459.1C338.43 458.8 343.42 458.85 348.1 458.6C352.78 458.35 359.66 457.6 363.1 457.6C366.54 457.6 366.56 457.91 368.75 458.6C370.94 459.29 373.44 461.6 376.25 461.75C379.06 461.9 383.1 459.81 385.6 459.5C388.1 459.19 389.06 459.22 391.25 459.9C393.44 460.58 395.94 462.79 398.75 463.6C401.56 464.41 404.66 464.18 408.1 464.75C411.54 465.32 416.58 466.46 419.4 467C422.22 467.54 422.19 468.78 425 468C427.81 467.22 432.5 463.72 436.25 462.3C440 460.88 443.75 460.22 447.5 459.5C451.25 458.78 455.62 457.85 458.75 458C461.88 458.15 463.75 458.9 466.25 460.4C468.75 461.9 471.25 465.97 473.75 467C476.25 468.03 477.5 466.98 481.25 466.6C485 466.23 492.19 465.47 496.25 464.75C500.31 464.03 502.98 463.32 505.6 462.3C508.23 461.28 510 459.38 512 458.6C514 457.82 515.1 457.45 517.6 457.6C520.1 457.75 524.18 459.56 527 459.5C529.82 459.44 530.75 457.57 534.5 457.25C538.25 456.93 544.5 457.38 549.5 457.6C554.5 457.83 560.12 457.82 564.5 458.6C568.88 459.38 572.62 461.28 575.75 462.3C578.88 463.32 580.75 464.59 583.25 464.75C585.75 464.91 588.25 464.12 590.75 463.25C593.25 462.38 595.44 460.19 598.25 459.5C601.06 458.81 604.48 458.85 607.6 459.1C610.73 459.35 614.18 460.31 617 461C619.82 461.69 622 461.93 624.5 463.25C627 464.57 630.12 468.02 632 468.9C633.88 469.77 633.88 469.82 635.75 468.5C637.62 467.18 640.75 462.25 643.25 461C645.75 459.75 648.25 460.62 650.75 461C653.25 461.38 655.44 463.35 658.25 463.25C661.06 463.15 664.48 461.27 667.6 460.4C670.73 459.52 673.56 458.13 677 458C680.44 457.87 685.17 459.18 688.25 459.6C691.33 460.02 693.04 460.2 695.5 460.5C697.96 460.8 701.12 460.98 703 461.4C704.88 461.82 705.5 462.73 706.75 463C708 463.27 709.04 463.27 710.5 463C711.96 462.73 713.83 462.02 715.5 461.4C717.17 460.77 718.83 459.47 720.5 459.25C722.17 459.03 724.04 459.64 725.5 460.1C726.96 460.56 728 461.27 729.25 462C730.5 462.73 731.54 464.29 733 464.5C734.46 464.71 736.54 463.5 738 463.25C739.46 463 740.29 462.89 741.75 463C743.21 463.11 745.08 463.13 746.75 463.9C748.42 464.67 750.29 466.67 751.75 467.6C753.21 468.53 754.04 468.45 755.5 469.5C756.96 470.55 758.83 472.86 760.5 473.9C762.17 474.94 763.42 474.92 765.5 475.75C767.58 476.58 770.71 478.52 773 478.9C775.29 479.27 777.38 477.58 779.25 478C781.12 478.42 782.17 480.22 784.25 481.4C786.33 482.58 789.88 484.48 791.75 485.1C793.62 485.72 794.25 484.83 795.5 485.1C796.75 485.38 798.62 486.48 799.25 486.75" stroke="#1a92b8" stroke-width="1.4"/>
<path d="M9.25 468.25C9.67 468 10.71 466.75 11.75 466.75C12.79 466.75 14.04 467.06 15.5 468.25C16.96 469.44 18.83 472.12 20.5 473.9C22.17 475.67 23.62 477.51 25.5 478.9C27.38 480.29 29.67 481.9 31.75 482.25C33.83 482.6 35.71 481.77 38 481C40.29 480.23 43.42 478.06 45.5 477.6C47.58 477.14 48.42 477.42 50.5 478.25C52.58 479.08 55.92 481.98 58 482.6C60.08 483.23 60.92 482.93 63 482C65.08 481.07 68 478.15 70.5 477C73 475.85 75.71 475 78 475.1C80.29 475.2 82.17 476.24 84.25 477.6C86.33 478.96 88.62 482.06 90.5 483.25C92.38 484.44 93.42 484.86 95.5 484.75C97.58 484.64 100.29 483.68 103 482.6C105.71 481.52 108.83 479.6 111.75 478.25C114.67 476.9 117.79 475.44 120.5 474.5C123.21 473.56 124.88 473.23 128 472.6C131.12 471.98 135.5 471.85 139.25 470.75C143 469.65 146.12 467.25 150.5 466C154.88 464.75 160.5 464.48 165.5 463.25C170.5 462.02 175.82 459.38 180.5 458.6C185.18 457.83 189.22 457.98 193.6 458.6C197.97 459.22 202.06 461.47 206.75 462.3C211.44 463.13 216.12 463.92 221.75 463.6C227.38 463.28 235.81 460.62 240.5 460.4C245.19 460.18 246.78 460.42 249.9 462.3C253.03 464.18 256.13 468.67 259.25 471.7C262.37 474.73 265.48 479.57 268.6 480.5C271.73 481.43 274.56 477.98 278 477.3C281.44 476.62 285.82 477.02 289.25 476.4C292.68 475.78 295.48 475 298.6 473.6C301.73 472.2 304.43 469.07 308 468C311.57 466.93 316.43 468.24 320 467.2C323.57 466.16 326.58 463.03 329.4 461.75C332.22 460.47 331.28 460.19 336.9 459.5C342.52 458.81 356.85 457.45 363.1 457.6C369.35 457.75 371.58 459.83 374.4 460.4C377.22 460.97 377.5 461.15 380 461C382.5 460.85 386.27 459.28 389.4 459.5C392.52 459.72 395.32 461.52 398.75 462.3C402.18 463.08 405.62 463.35 410 464.2C414.38 465.05 420 467.72 425 467.4C430 467.08 435 463.62 440 462.3C445 460.98 450.93 460.03 455 459.5C459.07 458.97 460.97 457.92 464.4 459.1C467.83 460.28 471.54 465.53 475.6 466.6C479.66 467.67 483.75 466.06 488.75 465.5C493.75 464.94 501.73 463.93 505.6 463.25C509.48 462.57 509.68 462.17 512 461.4C514.32 460.62 516.38 458.85 519.5 458.6C522.62 458.35 527 460 530.75 459.9C534.5 459.8 536.38 458.22 542 458C547.62 457.78 559.18 458.2 564.5 458.6C569.82 459 570.47 459.47 573.9 460.4C577.33 461.33 581.67 463.88 585.1 464.2C588.53 464.52 591.37 463.15 594.5 462.3C597.63 461.45 600.15 459.42 603.9 459.1C607.65 458.78 613.57 459.87 617 460.4C620.43 460.93 621.53 460.95 624.5 462.3C627.47 463.65 631.67 468.03 634.8 468.5C637.92 468.97 640.9 466.28 643.25 465.1C645.6 463.92 646.09 461.77 648.9 461.4C651.71 461.03 656.04 463.28 660.1 462.9C664.16 462.52 669.18 459.92 673.25 459.1C677.32 458.28 679.96 457.83 684.5 458C689.04 458.17 696.17 459.43 700.5 460.1C704.83 460.77 708 461.68 710.5 462C713 462.32 713.42 462.32 715.5 462C717.58 461.68 720.71 460.27 723 460.1C725.29 459.93 727.17 460.48 729.25 461C731.33 461.52 732.58 462.83 735.5 463.25C738.42 463.67 744.25 463.29 746.75 463.5C749.25 463.71 748.83 463.82 750.5 464.5C752.17 465.18 754.67 466.35 756.75 467.6C758.83 468.85 760.71 470.6 763 472C765.29 473.4 768 474.96 770.5 476C773 477.04 775.29 477.57 778 478.25C780.71 478.93 784.25 479.27 786.75 480.1C789.25 480.93 790.92 482.31 793 483.25C795.08 484.19 798.21 485.33 799.25 485.75" stroke="#c8c020" stroke-width="1.4"/>
</g>
<text x="13.3" y="468.6" font-family="Liberation Sans, Noto Sans CJK JP, sans-serif" font-size="8.2" font-weight="bold" fill="#1a8eb8" textLength="127" lengthAdjust="spacingAndGlyphs">スローストキャスティクス<tspan font-weight="normal"> (25, 3, 3)</tspan></text>
<g fill="#d4d4d4" font-family="Liberation Sans, sans-serif" font-size="8.8" letter-spacing="-0.3"><text x="1019" y="56.1" text-anchor="end">165.000</text><text x="1019" y="98.6" text-anchor="end">162.500</text><text x="1019" y="141.1" text-anchor="end">160.000</text><text x="1019" y="183.6" text-anchor="end">157.500</text><text x="1019" y="226.1" text-anchor="end">155.000</text><text x="1019" y="268.6" text-anchor="end">152.500</text><text x="1019" y="311.1" text-anchor="end">150.000</text><text x="1019" y="353.6" text-anchor="end">147.500</text><text x="1019" y="396.1" text-anchor="end">145.000</text><text x="1019" y="438.6" text-anchor="end">142.500</text><text x="1019" y="460.0" text-anchor="end">100.00</text><text x="1019" y="475.0" text-anchor="end">50.00</text><text x="1019" y="490.0" text-anchor="end">0.00</text></g>
<g fill="#d6d6d6" stroke="#d6d6d6" stroke-width="0.35" font-family="Liberation Sans, sans-serif" font-size="9.1"><text x="13.85" y="506.6" textLength="21.3" lengthAdjust="spacingAndGlyphs">12/22</text><text x="100" y="506.6" textLength="43.0" lengthAdjust="spacingAndGlyphs">2023/01/26</text><text x="208.35" y="506.6" textLength="21.3" lengthAdjust="spacingAndGlyphs">03/02</text><text x="305.85" y="506.6" textLength="21.3" lengthAdjust="spacingAndGlyphs">04/06</text><text x="402.85" y="506.6" textLength="21.3" lengthAdjust="spacingAndGlyphs">05/11</text><text x="499.85" y="506.6" textLength="21.3" lengthAdjust="spacingAndGlyphs">06/15</text><text x="597.85" y="506.6" textLength="21.3" lengthAdjust="spacingAndGlyphs">07/20</text><text x="694.85" y="506.6" textLength="21.3" lengthAdjust="spacingAndGlyphs">08/24</text><text x="792.35" y="506.6" textLength="21.3" lengthAdjust="spacingAndGlyphs">09/28</text><text x="889.85" y="506.6" textLength="21.3" lengthAdjust="spacingAndGlyphs">11/02</text></g>
<polygon points="977.4,96.9 984.4,92.3 1022,92.3 1022,101.6 984.4,101.6" fill="#ffb806"/>
<text x="989.8" y="99.5" font-family="Liberation Sans, sans-serif" font-size="8.8" fill="#2a2a2a" stroke="#2a2a2a" stroke-width="0.25" textLength="27.8" lengthAdjust="spacingAndGlyphs">162.445</text>
<line x1="9.5" y1="454.5" x2="1022" y2="454.5" stroke="#6a6a6a" stroke-width="1.2"/>
</svg>
<svg width="1024" height="16" style="position:absolute;left:0;top:0">
<text x="4" y="10.8" font-family="Liberation Sans, Noto Sans CJK JP, sans-serif" font-size="8.8" font-weight="bold" fill="#f2f2f2" textLength="55.3" lengthAdjust="spacingAndGlyphs">CHF/JPY 日 BID</text>
<text x="987.5" y="11.3" text-anchor="middle" font-family="Liberation Sans, sans-serif" font-size="9" font-weight="bold" fill="#e0e0e0">?</text>
<rect x="996.9" y="5.9" width="5.6" height="4.6" rx="1.3" fill="none" stroke="#e0e0e0" stroke-width="1.3"/>
<line x1="996.9" y1="6.8" x2="1002.5" y2="6.8" stroke="#e0e0e0" stroke-width="1.6"/>
<path d="M1011.2 5.5L1016.5 10.6M1016.5 5.5L1011.2 10.6" stroke="#e0e0e0" stroke-width="1.4"/>
</svg>
</body></html>
